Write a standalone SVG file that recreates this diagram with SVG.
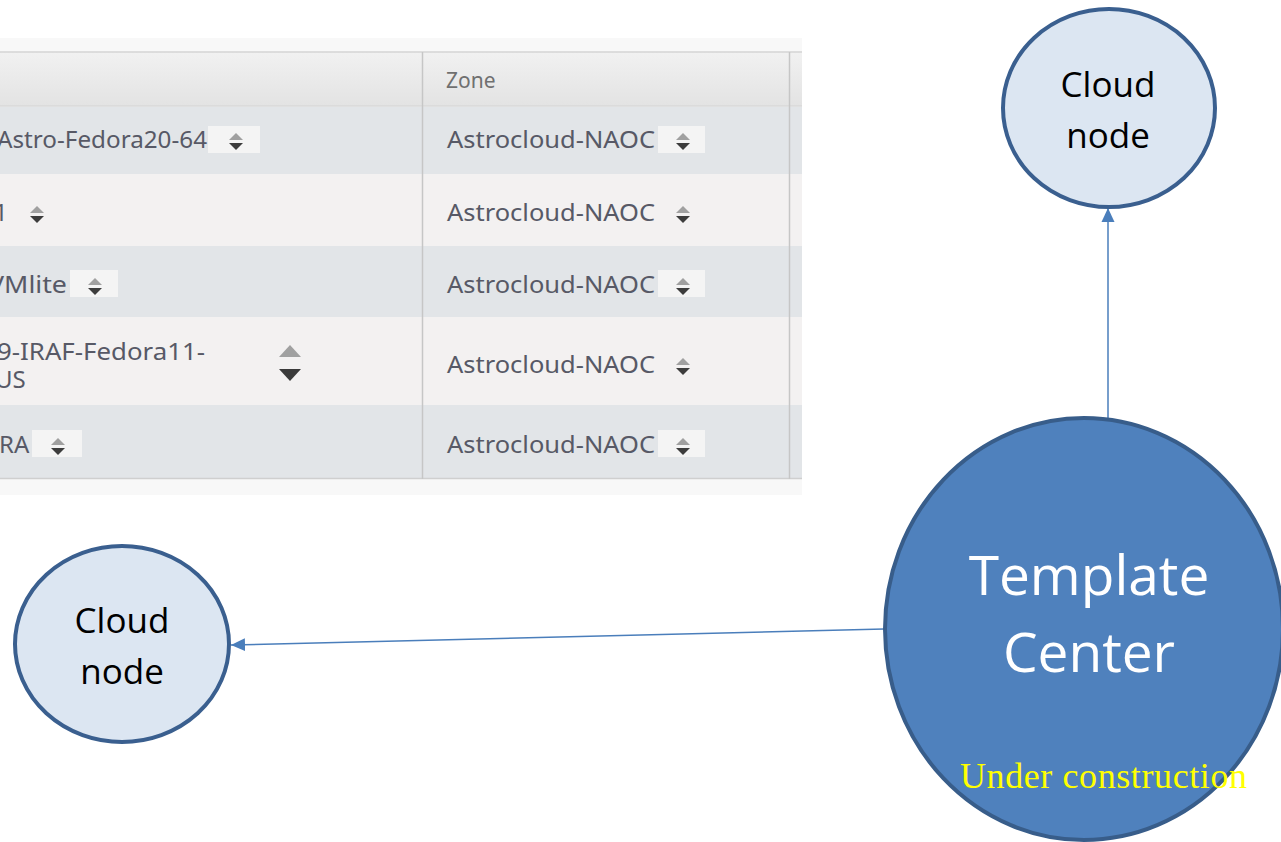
<svg xmlns="http://www.w3.org/2000/svg" width="1281" height="842" viewBox="0 0 1281 842">
  <defs>
    <linearGradient id="hdr" x1="0" y1="0" x2="0" y2="1">
      <stop offset="0" stop-color="#f1f1f1"/>
      <stop offset="1" stop-color="#e3e3e3"/>
    </linearGradient>
    <marker id="arr" viewBox="0 0 14 14" refX="14" refY="7" markerWidth="14" markerHeight="14" markerUnits="userSpaceOnUse" orient="auto">
      <path d="M0,0.5 L14,7 L0,13.5 z" fill="#4a7ebb"/>
    </marker>
    <g id="spin">
      <path d="M-7,-1 L0,-8 L7,-1 z" fill="#a0a0a0"/>
      <path d="M-7,2 L0,9 L7,2 z" fill="#3c3c3c"/>
    </g>
  </defs>
  <style>
    .cell { font-family: "Noto Sans", "Open Sans", sans-serif; font-size: 24px; fill: #575966; }
    .hdrt { font-family: "Noto Sans", "Open Sans", sans-serif; font-size: 21px; fill: #707070; }
    .node { fill: #dce6f2; stroke: #3a5f8f; stroke-width: 4; }
    .nodet { font-family: "Open Sans", "Liberation Sans", sans-serif; font-size: 35px; fill: #000; text-anchor: middle; }
    .conn { stroke: #4a7ebb; stroke-width: 1.5; fill: none; }
  </style>
  <rect width="1281" height="842" fill="#ffffff"/>

  <g id="table">
    <rect x="0" y="38" width="802" height="457" fill="#f8f8f8"/>
    <rect x="0" y="52" width="802" height="54" fill="url(#hdr)"/>
    <line x1="0" y1="52" x2="802" y2="52" stroke="#d4d4d4" stroke-width="1.5"/>
    <line x1="0" y1="106" x2="802" y2="106" stroke="#d8d8d8" stroke-width="1.5"/>
    <rect x="0" y="107" width="802" height="67" fill="#e2e5e8"/>
    <rect x="0" y="174" width="802" height="72" fill="#f3f1f1"/>
    <rect x="0" y="246" width="802" height="71" fill="#e2e5e8"/>
    <rect x="0" y="317" width="802" height="88" fill="#f3f1f1"/>
    <rect x="0" y="405" width="802" height="73" fill="#e2e5e8"/>
    <line x1="0" y1="478.5" x2="802" y2="478.5" stroke="#cfcfcf" stroke-width="1.5"/>
    <line x1="422.5" y1="52" x2="422.5" y2="479" stroke="#c6c6c6" stroke-width="1.5"/>
    <line x1="789.5" y1="52" x2="789.5" y2="479" stroke="#c6c6c6" stroke-width="1.5"/>

    <text class="hdrt" x="446" y="88">Zone</text>

    <!-- left column -->
    <rect x="208" y="126" width="52" height="27" fill="#f4f4f4"/>
    <text class="cell" x="-3" y="148" textLength="210" lengthAdjust="spacingAndGlyphs">Astro-Fedora20-64</text>
    <use href="#spin" x="236" y="141"/>

    <text class="cell" x="-6" y="221">1</text>
    <use href="#spin" x="37" y="214"/>

    <rect x="70" y="270" width="48" height="27" fill="#f4f4f4"/>
    <text class="cell" x="-12" y="293" textLength="79" lengthAdjust="spacingAndGlyphs">VMlite</text>
    <use href="#spin" x="95" y="286"/>

    <text class="cell" x="-3" y="360" textLength="208" lengthAdjust="spacingAndGlyphs">9-IRAF-Fedora11-</text>
    <text class="cell" x="-5" y="388">US</text>
    <path d="M279,357 L290,345 L301,357 z" fill="#a0a0a0"/>
    <path d="M279,369 L290,381 L301,369 z" fill="#3a3a3a"/>

    <rect x="32" y="430" width="50" height="27" fill="#f4f4f4"/>
    <text class="cell" x="-1" y="453">RA</text>
    <use href="#spin" x="58" y="446"/>

    <!-- right column -->
    <rect x="658" y="126" width="47" height="27" fill="#f4f4f4"/>
    <text class="cell" x="447" y="148" textLength="208" lengthAdjust="spacingAndGlyphs">Astrocloud-NAOC</text>
    <use href="#spin" x="683" y="141"/>

    <text class="cell" x="447" y="221" textLength="208" lengthAdjust="spacingAndGlyphs">Astrocloud-NAOC</text>
    <use href="#spin" x="683" y="214"/>

    <rect x="658" y="270" width="47" height="27" fill="#f4f4f4"/>
    <text class="cell" x="447" y="293" textLength="208" lengthAdjust="spacingAndGlyphs">Astrocloud-NAOC</text>
    <use href="#spin" x="683" y="286"/>

    <text class="cell" x="447" y="373" textLength="208" lengthAdjust="spacingAndGlyphs">Astrocloud-NAOC</text>
    <use href="#spin" x="683" y="366"/>

    <rect x="658" y="430" width="47" height="27" fill="#f4f4f4"/>
    <text class="cell" x="447" y="453" textLength="208" lengthAdjust="spacingAndGlyphs">Astrocloud-NAOC</text>
    <use href="#spin" x="683" y="446"/>
  </g>

  <g id="connectors">
    <line class="conn" x1="1108" y1="418" x2="1108" y2="208" marker-end="url(#arr)"/>
    <line class="conn" x1="884" y1="629" x2="231" y2="645" marker-end="url(#arr)"/>
  </g>

  <g id="cloud-node-top">
    <ellipse class="node" cx="1109" cy="108" rx="106" ry="99"/>
    <text class="nodet" x="1108" y="97">Cloud</text>
    <text class="nodet" x="1108" y="148">node</text>
  </g>

  <g id="cloud-node-left">
    <ellipse class="node" cx="122" cy="644" rx="107" ry="98"/>
    <text class="nodet" x="122" y="633">Cloud</text>
    <text class="nodet" x="122" y="684">node</text>
  </g>

  <g id="template-center">
    <ellipse cx="1084" cy="629" rx="199" ry="211" fill="#4f81bd" stroke="#385d8a" stroke-width="4"/>
    <text x="1089" y="595" font-family="Open Sans, Liberation Sans, sans-serif" font-size="55" fill="#ffffff" text-anchor="middle">Template</text>
    <text x="1089" y="672" font-family="Open Sans, Liberation Sans, sans-serif" font-size="55" fill="#ffffff" text-anchor="middle">Center</text>
    <text x="960" y="788" font-family="Liberation Serif, serif" font-size="36" fill="#ffff00" textLength="287">Under construction</text>
  </g>
</svg>
